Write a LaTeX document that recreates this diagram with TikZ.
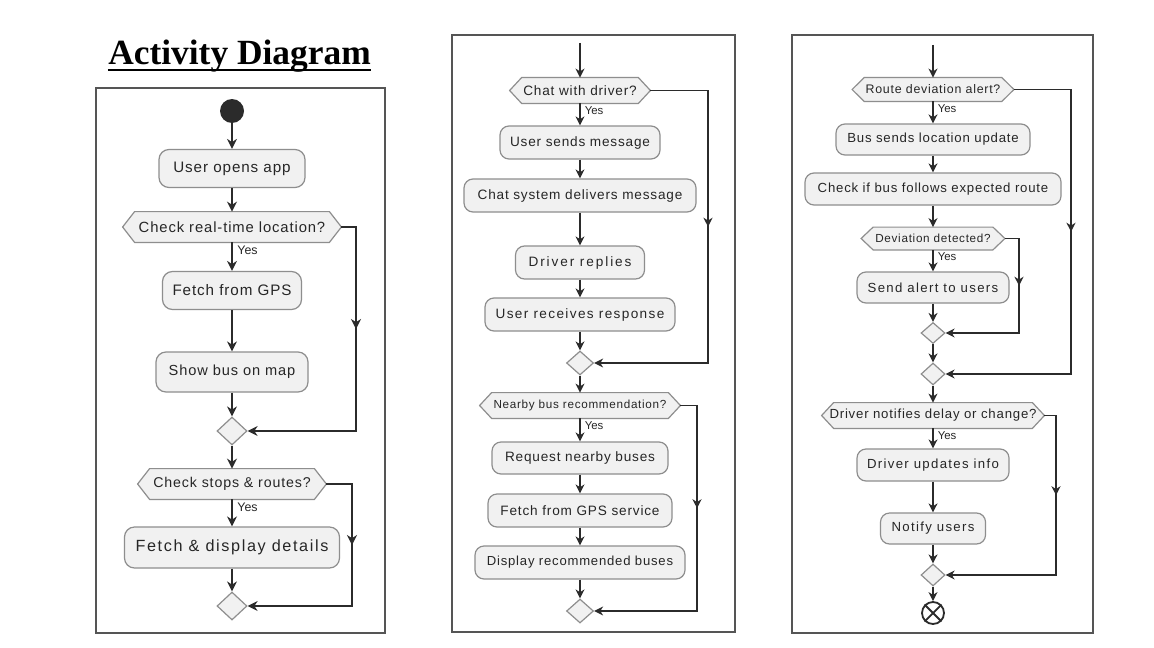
\documentclass[tikz,border=0pt]{standalone}
\usepackage{fontspec}
\setmainfont{Liberation Sans}
\newfontfamily\nodefont[LetterSpace=6]{Liberation Sans}
\newfontfamily\nodefontb[LetterSpace=10]{Liberation Sans}
\newfontfamily\nodefontc[LetterSpace=14]{Liberation Sans}
\newfontfamily\yesfont{Liberation Sans}
\newfontfamily\titlefont{Liberation Serif}
\usetikzlibrary{arrows.meta,shapes.geometric,decorations.markings}
\definecolor{boxfill}{HTML}{F1F1F1}
\definecolor{boxline}{HTML}{8E8E8E}
\definecolor{arrline}{HTML}{2B2B2B}
\definecolor{framecol}{HTML}{555555}
\tikzset{
  boxbase/.style={rectangle, draw=boxline, fill=boxfill, line width=0.6pt, inner sep=0pt, text=black!85},
  p1box/.style={boxbase, rounded corners=5pt, font=\nodefont\fontsize{7.6}{9}\selectfont},
  p2box/.style={boxbase, rounded corners=4.5pt, font=\nodefont\fontsize{6.8}{8}\selectfont},
  p3box/.style={boxbase, rounded corners=4.5pt, font=\nodefont\fontsize{6.6}{8}\selectfont},
  p1text/.style={inner sep=0pt, text=black!85, font=\nodefont\fontsize{7.4}{9}\selectfont},
  p2text/.style={inner sep=0pt, text=black!85, font=\nodefont\fontsize{6.8}{8}\selectfont},
  p3text/.style={inner sep=0pt, text=black!85, font=\nodefont\fontsize{6.6}{8}\selectfont},
  hexshape/.style={rectangle, inner sep=0pt},
  hexline/.style={draw=boxline, fill=boxfill, line width=0.6pt},
  dia/.style={diamond, draw=boxline, fill=boxfill, line width=0.6pt, inner sep=0pt},
  yes1/.style={anchor=north west, inner sep=0pt, text=black!85, font=\yesfont\fontsize{6.2}{7}\selectfont},
  yes2/.style={anchor=north west, inner sep=0pt, text=black!85, font=\yesfont\fontsize{5.7}{6.5}\selectfont},
  tip1/.tip={Stealth[length=5pt,width=5pt,inset=1.6pt]},
  tip2/.tip={Stealth[length=4.5pt,width=4.5pt,inset=1.4pt]},
  arr1/.style={draw=arrline, line width=0.75pt, -tip1},
  arr2/.style={draw=arrline, line width=0.65pt, -tip2},
  mid1/.style={draw=arrline, line width=0.75pt, postaction={decorate},
    decoration={markings, mark=at position 0.5 with {\arrow{tip1}}}},
  mid2/.style={draw=arrline, line width=0.65pt, postaction={decorate},
    decoration={markings, mark=at position 0.5 with {\arrow{tip2}}}},
  frame/.style={draw=framecol, line width=0.6pt},
  startnode/.style={circle, fill=arrline, inner sep=0pt, minimum size=12pt},
  endnode/.style={circle, draw=arrline, fill=white, line width=0.9pt, inner sep=0pt, minimum size=11pt}
}
% #1 text style, #2 name, #3 position, #4 width, #5 height, #6 text
\newcommand{\hexnode}[6]{%
  \node[hexshape, minimum width=#4, minimum height=#5] (#2) at #3 {};
  \filldraw[hexline] (#2.west) -- ([xshift=6pt]#2.north west) -- ([xshift=-6pt]#2.north east)
     -- (#2.east) -- ([xshift=-6pt]#2.south east) -- ([xshift=6pt]#2.south west) -- cycle;
  \node[#1] (#2t) at (#2) {#6};}
\begin{document}
\begin{tikzpicture}[x=0.5pt,y=-0.5pt]
\fill[white] (0,0) rectangle (1154,647);
\useasboundingbox (0,0) rectangle (1154,647);

% ---------- title ----------
\node[anchor=base, inner sep=0pt, font=\titlefont\bfseries\fontsize{17.7}{20}\selectfont] (title) at (239.5,65) {Activity Diagram};
\draw[line width=1pt] ([yshift=-2.3pt]title.base west) -- ([yshift=-2.3pt]title.base east);

% ---------- frames ----------
\draw[frame] (96,88) rectangle (385,633);
\draw[frame] (452,35) rectangle (735,632);
\draw[frame] (792,35) rectangle (1093,633);

% ---------- panel 1 ----------
\node[startnode] (start) at (232,111) {};
\node[p1box, minimum width=73pt, minimum height=19pt] (a1) at (232,168.5) {User opens app};
\hexnode{p1text}{h1}{(232,227)}{109pt}{15pt}{Check real-time location?}
\node[p1box, minimum width=69.5pt, minimum height=19pt] (a2) at (232,290.5) {Fetch from GPS};
\node[p1box, minimum width=76pt, minimum height=20pt, font=\nodefont\fontsize{7.3}{9}\selectfont] (a3) at (232,372) {Show bus on map};
\node[dia, minimum width=15pt, minimum height=14pt] (d1) at (232,431) {};
\hexnode{p1text, font=\nodefont\fontsize{7.1}{9}\selectfont}{h2}{(232,484)}{94pt}{15pt}{Check stops \& routes?}
\node[p1box, minimum width=107.5pt, minimum height=20.5pt, font=\nodefontb\fontsize{8.1}{9}\selectfont] (a4) at (232,547.5) {Fetch \& display details};
\node[dia, minimum width=15pt, minimum height=14pt] (d2) at (232,606) {};

\draw[arr1] (start) -- (a1);
\draw[arr1] (a1) -- (h1);
\draw[arr1] (h1) -- (a2);
\node[yes1] at ([xshift=2.5pt,yshift=-1.6pt]h1.south) {Yes};
\draw[arr1] (a2) -- (a3);
\draw[arr1] (a3) -- (d1);
\coordinate (b1a) at (356,227);
\coordinate (b1b) at (356,431);
\draw[arr1] (h1.east) -- (b1a) -- (b1b) -- (d1.east);
\draw[mid1] (b1a) -- (b1b);
\draw[arr1] (d1) -- (h2);
\draw[arr1] (h2) -- (a4);
\node[yes1] at ([xshift=2.5pt,yshift=-1.6pt]h2.south) {Yes};
\draw[arr1] (a4) -- (d2);
\coordinate (b2a) at (352,484);
\coordinate (b2b) at (352,606);
\draw[arr1] (h2.east) -- (b2a) -- (b2b) -- (d2.east);
\draw[mid1] (b2a) -- (b2b);

% ---------- panel 2 ----------
\coordinate (t2) at (580,43);
\hexnode{p2text}{h3}{(580,90.5)}{70pt}{12.5pt}{Chat with driver?}
\node[p2box, minimum width=80pt, minimum height=16.5pt] (a5) at (580,142.5) {User sends message};
\node[p2box, minimum width=116pt, minimum height=16.5pt] (a6) at (580,195.5) {Chat system delivers message};
\node[p2box, minimum width=64.5pt, minimum height=16.5pt, font=\nodefontc\fontsize{6.8}{8}\selectfont] (a7) at (580,262.5) {Driver replies};
\node[p2box, minimum width=95pt, minimum height=16.5pt, font=\nodefontb\fontsize{6.8}{8}\selectfont] (a8) at (580,314.5) {User receives response};
\node[dia, minimum width=13.5pt, minimum height=12pt] (d3) at (580,363) {};
\hexnode{p2text, font=\nodefont\fontsize{5.85}{7}\selectfont}{h4}{(580,405.5)}{100pt}{12.5pt}{Nearby bus recommendation?}
\node[p2box, minimum width=88pt, minimum height=16pt] (a9) at (580,458) {Request nearby buses};
\node[p2box, minimum width=92pt, minimum height=16.5pt] (a10) at (580,510.5) {Fetch from GPS service};
\node[p2box, minimum width=105pt, minimum height=16.5pt, font=\nodefont\fontsize{6.55}{8}\selectfont] (a11) at (580,562.5) {Display recommended buses};
\node[dia, minimum width=13.5pt, minimum height=12pt] (d4) at (580,611) {};

\draw[arr2] (t2) -- (h3);
\draw[arr2] (h3) -- (a5);
\node[yes2] at ([xshift=2.2pt,yshift=-1.2pt]h3.south) {Yes};
\draw[arr2] (a5) -- (a6);
\draw[arr2] (a6) -- (a7);
\draw[arr2] (a7) -- (a8);
\draw[arr2] (a8) -- (d3);
\coordinate (b3a) at (708,90.5);
\coordinate (b3b) at (708,363);
\draw[arr2] (h3.east) -- (b3a) -- (b3b) -- (d3.east);
\draw[mid2] (b3a) -- (b3b);
\draw[arr2] (d3) -- (h4);
\draw[arr2] (h4) -- (a9);
\node[yes2] at ([xshift=2.2pt,yshift=-1.2pt]h4.south) {Yes};
\draw[arr2] (a9) -- (a10);
\draw[arr2] (a10) -- (a11);
\draw[arr2] (a11) -- (d4);
\coordinate (b4a) at (697,405.5);
\coordinate (b4b) at (697,611);
\draw[arr2] (h4.east) -- (b4a) -- (b4b) -- (d4.east);
\draw[mid2] (b4a) -- (b4b);

% ---------- panel 3 ----------
\coordinate (t3) at (933,45);
\hexnode{p3text, font=\nodefont\fontsize{6.2}{8}\selectfont}{h5}{(933,89.5)}{80.5pt}{11.5pt}{Route deviation alert?}
\node[p3box, minimum width=97pt, minimum height=15.5pt] (a12) at (933,139.5) {Bus sends location update};
\node[p3box, minimum width=128pt, minimum height=16pt] (a13) at (933,189) {Check if bus follows expected route};
\hexnode{p3text, font=\nodefont\fontsize{5.85}{7}\selectfont}{h6}{(933,238.5)}{71.5pt}{11pt}{Deviation detected?}
\node[p3box, minimum width=76pt, minimum height=15.5pt, font=\nodefontb\fontsize{6.6}{8}\selectfont] (a14) at (933,287.5) {Send alert to users};
\node[dia, minimum width=12pt, minimum height=10.5pt] (d5) at (933,333) {};
\node[dia, minimum width=12pt, minimum height=11pt] (d6) at (933,374) {};
\hexnode{p3text}{h7}{(933,415.5)}{111pt}{12.5pt}{Driver notifies delay or change?}
\node[p3box, minimum width=76pt, minimum height=16pt, font=\nodefontb\fontsize{6.6}{8}\selectfont] (a15) at (933,465) {Driver updates info};
\node[p3box, minimum width=52.5pt, minimum height=15.5pt, font=\nodefontb\fontsize{6.6}{8}\selectfont] (a16) at (933,528.5) {Notify users};
\node[dia, minimum width=12pt, minimum height=11pt] (d7) at (933,575) {};
\node[endnode] (end) at (933,613) {};
\draw[arrline, line width=0.9pt] (end.north west) -- (end.south east) (end.north east) -- (end.south west);

\draw[arr2] (t3) -- (h5);
\draw[arr2] (h5) -- (a12);
\node[yes2] at ([xshift=2.2pt,yshift=-1.2pt]h5.south) {Yes};
\draw[arr2] (a12) -- (a13);
\draw[arr2] (a13) -- (h6);
\draw[arr2] (h6) -- (a14);
\node[yes2] at ([xshift=2.2pt,yshift=-1.2pt]h6.south) {Yes};
\draw[arr2] (a14) -- (d5);
\coordinate (b6a) at (1019,238.5);
\coordinate (b6b) at (1019,333);
\draw[arr2] (h6.east) -- (b6a) -- (b6b) -- (d5.east);
\draw[mid2] (b6a) -- (b6b);
\draw[arr2] (d5) -- (d6);
\coordinate (b5a) at (1071,89.5);
\coordinate (b5b) at (1071,374);
\draw[arr2] (h5.east) -- (b5a) -- (b5b) -- (d6.east);
\draw[mid2] (b5a) -- (b5b);
\draw[arr2] (d6) -- (h7);
\draw[arr2] (h7) -- (a15);
\node[yes2] at ([xshift=2.2pt,yshift=-1.2pt]h7.south) {Yes};
\draw[arr2] (a15) -- (a16);
\draw[arr2] (a16) -- (d7);
\coordinate (b7a) at (1056,415.5);
\coordinate (b7b) at (1056,575);
\draw[arr2] (h7.east) -- (b7a) -- (b7b) -- (d7.east);
\draw[mid2] (b7a) -- (b7b);
\draw[arr2] (d7) -- (end);
\end{tikzpicture}
\end{document}
